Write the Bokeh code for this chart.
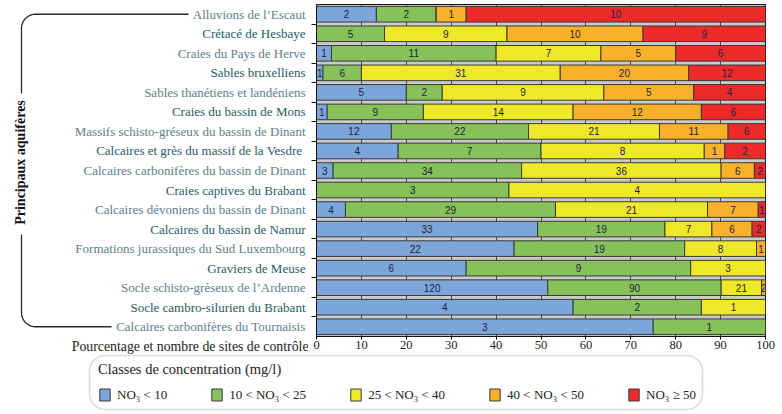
import math
from bokeh.plotting import figure
from bokeh.layouts import row, column
from bokeh.models import (ColumnDataSource, Range1d, FixedTicker, Legend, LegendItem,
                          BoxAnnotation, Title)
from bokeh.core.properties import value
from bokeh.embed import file_html
from bokeh.resources import INLINE

# ---------------- data ----------------
aquifers = [
    "Alluvions de l\u2019Escaut",
    "Crétacé de Hesbaye",
    "Craies du Pays de Herve",
    "Sables bruxelliens",
    "Sables thanétiens et landéniens",
    "Craies du bassin de Mons",
    "Massifs schisto-gréseux du bassin de Dinant",
    "Calcaires et grès du massif  de la Vesdre",
    "Calcaires carbonifères du bassin de Dinant",
    "Craies captives du Brabant",
    "Calcaires dévoniens du bassin de Dinant",
    "Calcaires du bassin de Namur",
    "Formations jurassiques du Sud Luxembourg",
    "Graviers de Meuse",
    "Socle schisto-grèseux de l\u2019Ardenne",
    "Socle cambro-silurien du Brabant",
    "Calcaires carbonifères du Tournaisis",
]
classes = ["NO\u2083 < 10", "10 < NO\u2083 < 25", "25 < NO\u2083 < 40",
           "40 < NO\u2083 < 50", "NO\u2083 \u2265 50"]
n_lt10 = [2, 0, 1, 1, 5, 1, 12, 4, 3, 0, 4, 33, 22, 6, 120, 4, 3]
n_10_25 = [2, 5, 11, 6, 2, 9, 22, 7, 34, 3, 29, 19, 19, 9, 90, 2, 1]
n_25_40 = [0, 9, 7, 31, 9, 14, 21, 8, 36, 4, 21, 7, 8, 3, 21, 1, 0]
n_40_50 = [1, 10, 5, 20, 5, 12, 11, 1, 6, 0, 7, 6, 1, 0, 2, 0, 0]
n_ge50 = [10, 9, 6, 12, 4, 6, 6, 2, 2, 0, 1, 2, 0, 0, 0, 0, 0]
x_ticks = [0, 10, 20, 30, 40, 50, 60, 70, 80, 90, 100]
axis_title = "Pourcentage et nombre de sites de contrôle"
side_title = "Principaux aquifères"
legend_title = "Classes de concentration (mg/l)"

colors = ["#7CA5DA", "#87C159", "#EFE828", "#F9B12A", "#EC2A2A"]
SERIF = "Liberation Serif"

# ---------------- layout constants ----------------
W_LEFT = 308
W_BARS = 782 - W_LEFT
H_TOP = 354
H_LEG = 414 - H_TOP
BORDER_TOP = 4
BORDER_BOTTOM = 18

# ---------------- derived ----------------
N = len(aquifers)
counts = [n_lt10, n_10_25, n_25_40, n_40_50, n_ge50]
keys = ["c0", "c1", "c2", "c3", "c4"]
totals = [sum(c[i] for c in counts) for i in range(N)]
ys = [N - i - 0.5 for i in range(N)]
data = {"y": ys}
for k, c in zip(keys, counts):
    data[k] = [c[i] / totals[i] * 100 for i in range(N)]
src = ColumnDataSource(data)

tx, ty, tt = [], [], []
for i in range(N):
    start = 0.0
    for k, c in zip(keys, counts):
        w = data[k][i]
        if c[i] > 0:
            tx.append(start + w / 2)
            ty.append(ys[i])
            tt.append(str(c[i]))
        start += w
tsrc = ColumnDataSource(dict(x=tx, y=ty, t=tt))

# ---------------- bar figure ----------------
p = figure(width=W_BARS, height=H_TOP, output_backend="svg", toolbar_location=None,
           x_range=Range1d(0, 100), y_range=Range1d(0, N),
           min_border_left=8, min_border_right=17, min_border_top=BORDER_TOP,
           min_border_bottom=BORDER_BOTTOM)
p.background_fill_color = "#cbcbcb"
p.border_fill_color = "white"
p.outline_line_color = "#111111"
p.outline_line_width = 1

bar_style = dict(height=0.8, fill_color=colors, line_color="#3a3a3a", line_width=1)
rs = p.hbar_stack(keys, y="y", source=src, **bar_style)

p.text(x="x", y="y", text="t", source=tsrc, text_align="center", text_baseline="middle",
       text_font=value("Liberation Sans"), text_font_size="10px", text_color="#1c2340")

p.xaxis.ticker = FixedTicker(ticks=x_ticks)
p.xaxis.major_label_text_font = SERIF
p.xaxis.major_label_text_font_size = "12.5px"
p.xaxis.major_label_text_color = "#222222"
p.xaxis.major_tick_in = 0
p.xaxis.major_tick_out = 3
p.xaxis.minor_tick_out = 0
p.xaxis.minor_tick_in = 0
p.xaxis.major_label_standoff = 1
p.xaxis.axis_line_color = "#111111"

# tick marks between rows, without labels (minor ticks)
p.yaxis.ticker = FixedTicker(ticks=[], minor_ticks=list(range(1, N)))
p.yaxis.minor_tick_in = 0
p.yaxis.minor_tick_out = 5
p.yaxis.minor_tick_line_color = "#111111"
p.yaxis.major_tick_in = 0
p.yaxis.major_tick_out = 0
p.yaxis.major_label_standoff = 0
p.yaxis.axis_line_color = "#111111"

p.xgrid.ticker = FixedTicker(ticks=x_ticks)
p.xgrid.grid_line_color = "#4a4a4a"
p.xgrid.grid_line_width = 1
p.ygrid.grid_line_color = None

# ---------------- left figure (labels, bracket); frame aligned with bars ----------------
pl = figure(width=W_LEFT, height=H_TOP, output_backend="svg", toolbar_location=None,
            x_range=Range1d(0, W_LEFT), y_range=p.y_range,
            x_axis_location=None, y_axis_location=None,
            min_border_left=0, min_border_right=0, min_border_top=BORDER_TOP,
            min_border_bottom=BORDER_BOTTOM)
pl.outline_line_color = None
pl.grid.visible = False

row_px = (H_TOP - BORDER_BOTTOM - BORDER_TOP) / N      # pixels per row
def ydat(top_down_px):
    return N - (top_down_px - BORDER_TOP) / row_px

label_colors = ["#5B808B" if i % 2 == 0 else "#1F5C67" for i in range(N)]
pl.text(x=[305] * N, y=ys, text=aquifers, text_color=label_colors,
        text_align="right", text_baseline="middle",
        text_font=value(SERIF), text_font_size="13px")

pl.text(x=[20], y=[ydat(162)], text=[side_title], angle=math.pi / 2,
        text_align="center", text_baseline="middle", text_font=value(SERIF),
        text_font_size="14px", text_font_style="bold", text_color="#111111")

pl.add_layout(Title(text=axis_title, align="right", offset=0, standoff=0,
                    text_font=SERIF, text_font_size="13.8px", text_font_style="normal",
                    text_color="#222222"), "below")

def arc(cx, cy, r, a0, a1, n=10):
    return [(cx + r * math.cos(math.radians(a0 + (a1 - a0) * k / n)),
             cy + (r / row_px) * math.sin(math.radians(a0 + (a1 - a0) * k / n)))
            for k in range(n + 1)]

R = 14
XV = 21
y_first, y_last = ys[0], ys[-1]
top_path = [(188, y_first)] + arc(XV + R, y_first - R / row_px, R, 90, 180) + [(XV, ydat(93))]
bot_path = [(XV, ydat(234))] + arc(XV + R, y_last + R / row_px, R, 180, 270) + [(111, y_last)]
for path in (top_path, bot_path):
    pl.line([a for a, b in path], [b for a, b in path], line_color="#2a2a2a",
            line_width=1.3)

# ---------------- legend figure ----------------
pleg = figure(width=782, height=H_LEG, output_backend="svg", toolbar_location=None,
              x_range=Range1d(0, 782), y_range=Range1d(0, H_LEG),
              x_axis_location=None, y_axis_location=None, min_border=0)
pleg.outline_line_color = None
pleg.grid.visible = False

def lyup(top_down):
    return H_LEG - top_down

pleg.add_layout(BoxAnnotation(left=89, right=702, top=lyup(1), bottom=lyup(55),
                              border_radius=16, fill_alpha=0,
                              line_color="#8a8a8a", line_width=1.6))

# hidden copies of the bar series: they only feed the legend swatches
leg_rs = pleg.hbar_stack(keys, y="y", source=src, visible=False, **bar_style)
items = [LegendItem(label=classes[j], renderers=[leg_rs[j]]) for j in range(5)]
legend = Legend(items=items, orientation="horizontal", location=(98, lyup(48.5)),
                title=legend_title,
                title_text_font=SERIF, title_text_font_size="14.5px",
                title_text_font_style="normal", title_text_color="#222222",
                title_standoff=9,
                label_text_font=SERIF, label_text_font_size="13px",
                label_text_color="#222222",
                glyph_width=13, glyph_height=15, label_height=15, label_standoff=6,
                spacing=43, padding=2, margin=0,
                inactive_fill_alpha=0,
                border_line_color=None, background_fill_alpha=0)
pleg.add_layout(legend)

layout = column(row(pl, p), pleg)
open("out.html", "w").write(file_html(layout, INLINE))
